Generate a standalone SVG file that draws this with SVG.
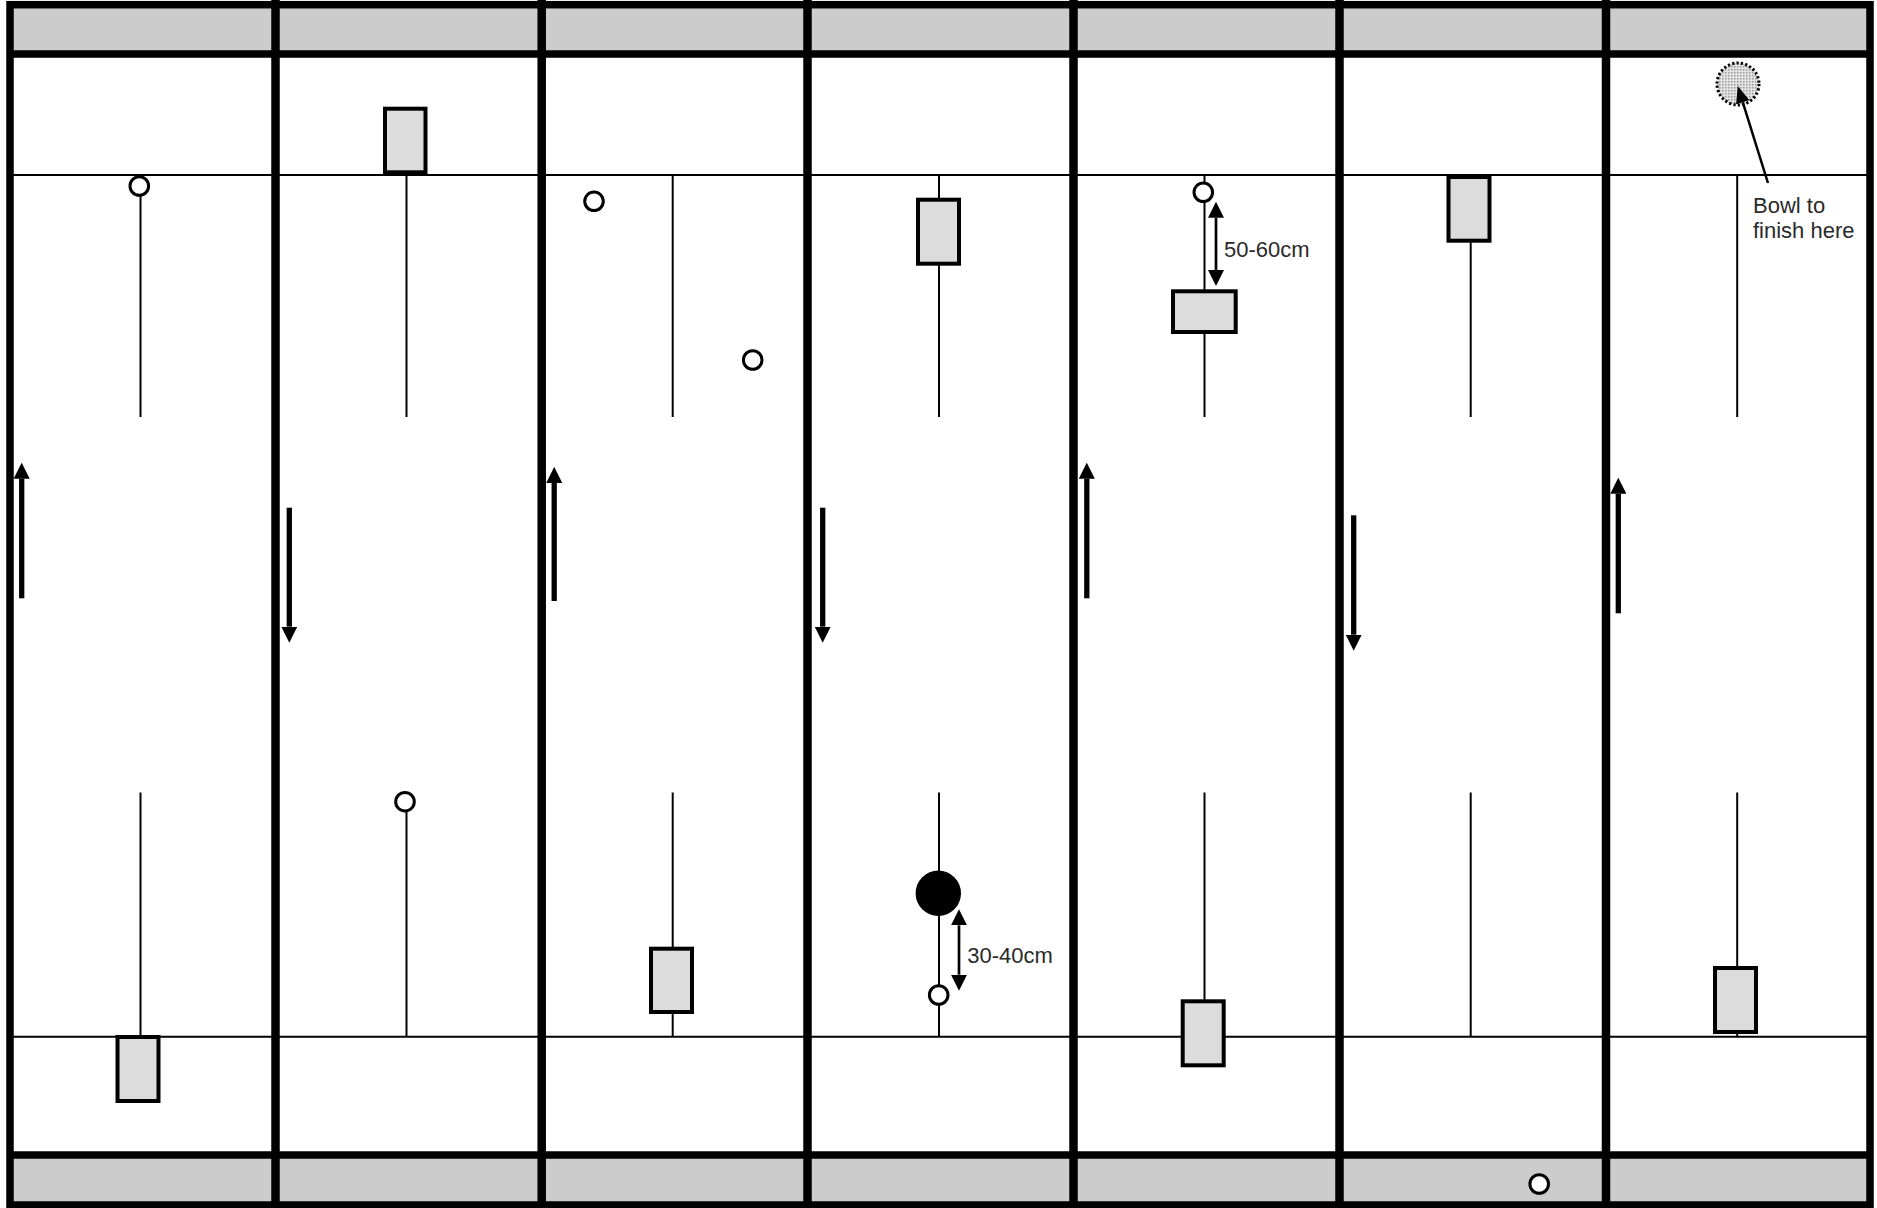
<svg xmlns="http://www.w3.org/2000/svg" width="1877" height="1208" viewBox="0 0 1877 1208">
<style>
.band{fill:#cccccc}
.frame{fill:none;stroke:#000;stroke-width:7.5}
.sep{stroke:#000;stroke-width:8.5}
.thick{stroke:#000;stroke-width:7.5}
.thin{stroke:#000;stroke-width:2}
.stem{stroke:#000;stroke-width:2;fill:none}
.cone{fill:#dcdcdc;stroke:#000;stroke-width:4}
.ball{fill:#fff;stroke:#000;stroke-width:3}
.dir{stroke:#000;stroke-width:5.3;fill:none;marker-end:url(#head)}
.dim{stroke:#000;stroke-width:2.7;fill:none;marker-start:url(#head);marker-end:url(#head)}
.ptr{stroke:#000;stroke-width:2.5;fill:none;marker-end:url(#head2)}
.lbl{font-family:"Liberation Sans",Arial,sans-serif;font-size:22px;fill:#2a2a2a}
</style>
<defs>
<marker id="head" viewBox="0 0 16 16" refX="0" refY="8" markerWidth="16" markerHeight="16" markerUnits="userSpaceOnUse" orient="auto-start-reverse">
<path d="M0,0 L16,8 L0,16 z" fill="#000"/>
</marker>
<marker id="head2" viewBox="0 0 17 14" refX="0" refY="7" markerWidth="17" markerHeight="14" markerUnits="userSpaceOnUse" orient="auto">
<path d="M0,0 L17,7 L0,14 z" fill="#000"/>
</marker>
<pattern id="stipple" width="3" height="3" patternUnits="userSpaceOnUse">
<rect width="3" height="3" fill="#e2e2e2"/>
<rect width="1.5" height="1.5" fill="#9a9a9a"/>
</pattern>
</defs>
<rect width="1877" height="1208" fill="#fff"/>
<g id="field">
<rect class="band" x="10" y="8" width="1860" height="43"/>
<rect class="band" x="10" y="1158" width="1860" height="45"/>
<line class="thin" x1="10" y1="175" x2="1870" y2="175"/>
<line class="thin" x1="10" y1="1036.7" x2="1870" y2="1036.7"/>
<line class="thick" x1="10" y1="54" x2="1870" y2="54"/>
<line class="thick" x1="10" y1="1155" x2="1870" y2="1155"/>
<line class="sep" x1="275.5" y1="0" x2="275.5" y2="1208"/>
<line class="sep" x1="541.7" y1="0" x2="541.7" y2="1208"/>
<line class="sep" x1="807.5" y1="0" x2="807.5" y2="1208"/>
<line class="sep" x1="1073.5" y1="0" x2="1073.5" y2="1208"/>
<line class="sep" x1="1339.5" y1="0" x2="1339.5" y2="1208"/>
<line class="sep" x1="1606" y1="0" x2="1606" y2="1208"/>
<rect class="frame" x="10" y="4.7" width="1860" height="1200.3"/>
</g>
<g id="col7-target"><circle cx="1738" cy="84" r="21" fill="url(#stipple)" stroke="#000" stroke-width="3" stroke-dasharray="2.2 2.2"/></g>
<g id="connectors">
<line class="stem" x1="140.5" y1="186" x2="140.5" y2="417"/>
<line class="stem" x1="140.5" y1="792.5" x2="140.5" y2="1036.7"/>
<line class="stem" x1="406.5" y1="174" x2="406.5" y2="417"/>
<line class="stem" x1="406.5" y1="801.7" x2="406.5" y2="1036.7"/>
<line class="stem" x1="672.7" y1="175" x2="672.7" y2="417"/>
<line class="stem" x1="672.7" y1="792.5" x2="672.7" y2="1036.7"/>
<line class="stem" x1="939" y1="175" x2="939" y2="417"/>
<line class="stem" x1="939" y1="792.5" x2="939" y2="1036.7"/>
<line class="stem" x1="1204.5" y1="175" x2="1204.5" y2="417"/>
<line class="stem" x1="1204.5" y1="792.5" x2="1204.5" y2="1036.7"/>
<line class="stem" x1="1470.7" y1="175" x2="1470.7" y2="417"/>
<line class="stem" x1="1470.7" y1="792.5" x2="1470.7" y2="1036.7"/>
<line class="stem" x1="1737.2" y1="175" x2="1737.2" y2="417"/>
<line class="stem" x1="1737.2" y1="792.5" x2="1737.2" y2="1036.7"/>
<line class="dir" x1="21.7" y1="598.3" x2="21.7" y2="478.7"/>
<line class="dir" x1="289.3" y1="507.7" x2="289.3" y2="626.7"/>
<line class="dir" x1="554.2" y1="601" x2="554.2" y2="482.9"/>
<line class="dir" x1="822.7" y1="507.7" x2="822.7" y2="626.7"/>
<line class="dir" x1="1086.8" y1="598.3" x2="1086.8" y2="478.7"/>
<line class="dir" x1="1353.7" y1="515.3" x2="1353.7" y2="634.7"/>
<line class="dir" x1="1618.3" y1="613.3" x2="1618.3" y2="493.7"/>
<line class="dim" x1="1216" y1="217.7" x2="1216" y2="270"/>
<line class="dim" x1="959" y1="925.3" x2="959" y2="974.7"/>
<line class="ptr" x1="1768" y1="183" x2="1742.8" y2="102.3"/>
</g>
<g id="col1-ball"><circle class="ball" cx="139.3" cy="186" r="9.3"/></g>
<g id="col1-cone"><rect class="cone" x="117.5" y="1037" width="41" height="64"/></g>
<g id="col2-cone"><rect class="cone" x="385" y="108.7" width="40.5" height="63.6"/></g>
<g id="col2-ball"><circle class="ball" cx="405" cy="801.7" r="9.3"/></g>
<g id="col3-ball-a"><circle class="ball" cx="594" cy="201.3" r="9.3"/></g>
<g id="col3-ball-b"><circle class="ball" cx="752.7" cy="360" r="9.3"/></g>
<g id="col3-cone"><rect class="cone" x="651" y="948.7" width="41" height="63.3"/></g>
<g id="col4-cone"><rect class="cone" x="918" y="199.7" width="41" height="64"/></g>
<g id="col4-jack"><circle cx="938.3" cy="893.3" r="22.7" fill="#000"/></g>
<g id="col4-ball"><circle class="ball" cx="938.7" cy="995" r="9.3"/></g>
<g id="col4-label"><text class="lbl" x="967.3" y="963.3">30-40cm</text></g>
<g id="col5-ball"><circle class="ball" cx="1203.3" cy="192.3" r="9.3"/></g>
<g id="col5-cone-wide"><rect class="cone" x="1173" y="291.3" width="62.7" height="40.7"/></g>
<g id="col5-label"><text class="lbl" x="1224" y="256.7">50-60cm</text></g>
<g id="col5-cone"><rect class="cone" x="1182.7" y="1001.3" width="41" height="64"/></g>
<g id="col6-cone"><rect class="cone" x="1448.5" y="177" width="41" height="63.7"/></g>
<g id="col6-ball"><circle class="ball" cx="1539.2" cy="1184" r="9.3"/></g>
<g id="col7-note"><text class="lbl" x="1753" y="213">Bowl to</text><text class="lbl" x="1753" y="238">finish here</text></g>
<g id="col7-cone"><rect class="cone" x="1715" y="968" width="41" height="64"/></g>
</svg>
